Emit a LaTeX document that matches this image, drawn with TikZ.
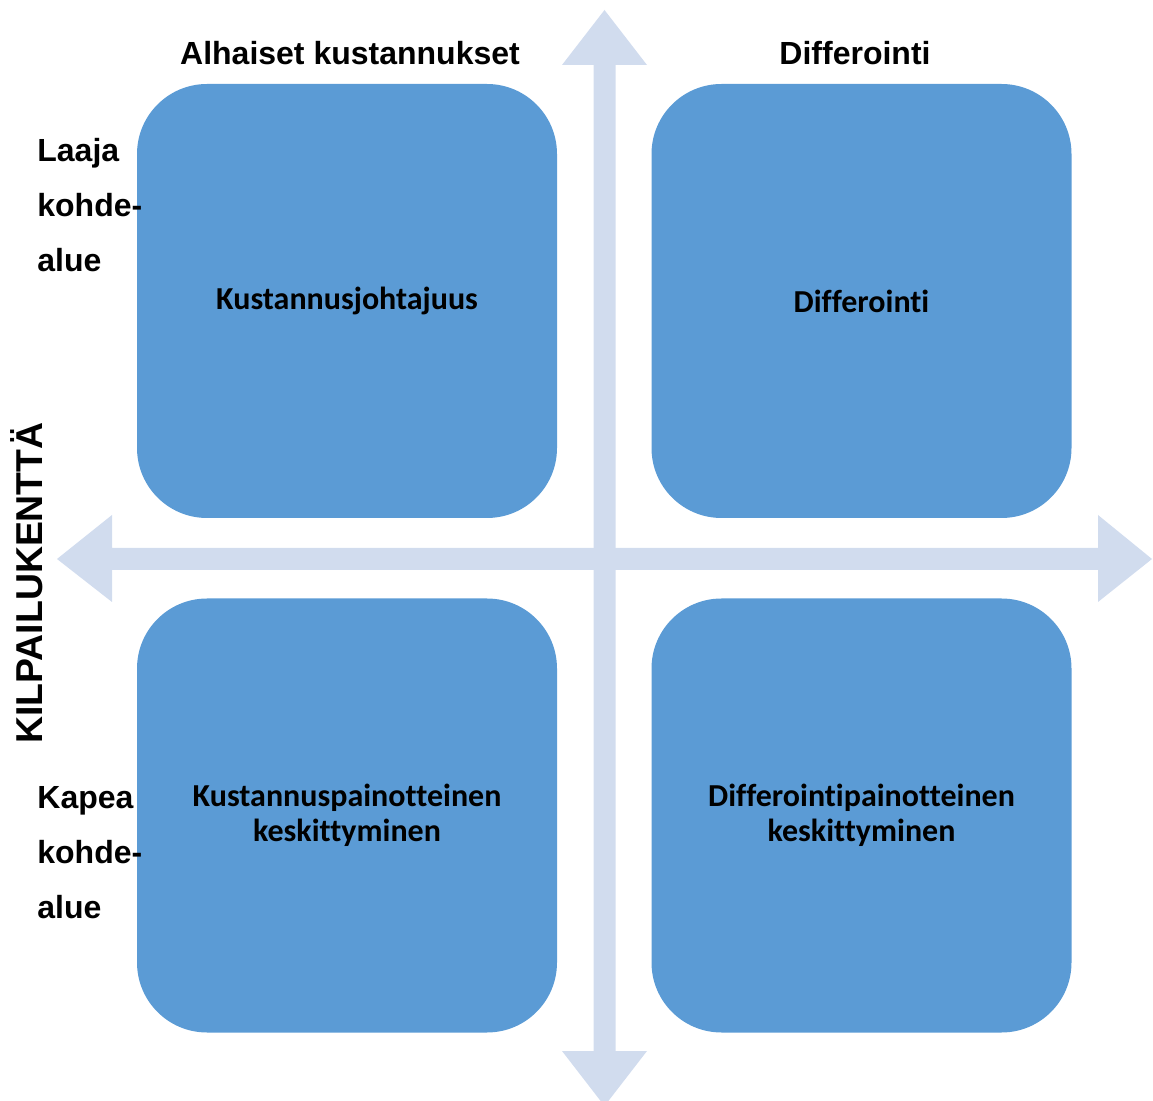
\documentclass[tikz,border=0pt]{standalone}
\usepackage{fontspec}
\setmainfont{Liberation Sans}[Ligatures={NoCommon}]
\newfontfamily\boxfont{Carlito}[Ligatures={NoCommon,NoRare,NoContextual}]
\usetikzlibrary{positioning}
\definecolor{boxblue}{HTML}{5B9BD5}
\definecolor{axisblue}{HTML}{D1DCEE}
\tikzset{
  quad/.style={fill=boxblue, rounded corners=35pt, minimum width=210pt, minimum height=217pt,
    inner sep=0pt, align=center, font=\boxfont\bfseries\fontsize{16}{17.5}\selectfont},
  lbl/.style={inner sep=0pt, font=\bfseries\fontsize{16}{27.5}\selectfont}
}

\begin{document}
\begin{tikzpicture}[x=0.5pt, y=-0.5pt]
  \useasboundingbox (0,0) rectangle (1153,1101);
  \fill[axisblue] (604.5,10) -- (647,65) -- (615.5,65) -- (615.5,1051) -- (647,1051)
    -- (604.5,1106) -- (562,1051) -- (593.5,1051) -- (593.5,65) -- (562,65) -- cycle;
  \fill[axisblue] (57,559) -- (112,515) -- (112,548) -- (1098,548) -- (1098,515)
    -- (1152,559) -- (1098,602) -- (1098,570) -- (112,570) -- (112,602) -- cycle;
  \node[quad] (costlead) at (347,301) {\raisebox{-1pt}{Kustannusjohtajuus}};
  \node[quad] (diff) at (861.5,301) {\raisebox{-1pt}{Differointi}};
  \node[quad] (costfocus) at (347,815.5) {Kustannuspainotteinen\\keskittyminen};
  \node[quad] (difffocus) at (861.5,815.5) {Differointipainotteinen\\keskittyminen};
  \node[lbl] (lowcost) at (350,53) {Alhaiset kustannukset};
  \node[lbl] (differ) at (855,53) {Differointi};
  \node[lbl, align=left, anchor=west] (wide) at (37,205) {Laaja\\kohde-\\alue};
  \node[lbl, align=left, anchor=west] (narrow) at (37,853) {Kapea\\kohde-\\alue};
  \node[lbl, rotate=90, font=\bfseries\fontsize{18.7}{20}\selectfont] (field) at (27,583) {KILPAILUKENTTÄ};
\end{tikzpicture}
\end{document}
